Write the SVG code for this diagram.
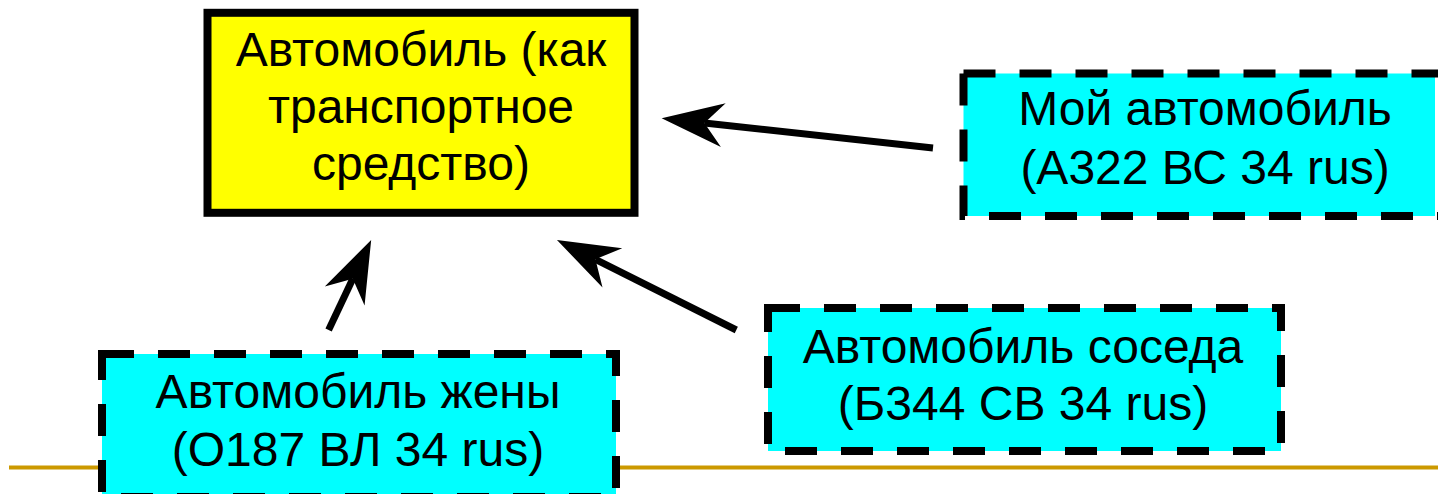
<svg xmlns="http://www.w3.org/2000/svg" width="1438" height="494" viewBox="0 0 1438 494">
  <style>
    .lbl { font-family: "Liberation Sans", Arial, sans-serif; font-size: 48px; fill: #000; text-anchor: middle; }
    .main { fill: #FFFF00; stroke: #000; stroke-width: 8; }
    .inst { fill: #00FFFF; stroke: #000; stroke-width: 8; stroke-dasharray: 32 24; }
    .instfill { fill: #00FFFF; stroke: none; }
    .instline { fill: none; stroke: #000; stroke-width: 8; stroke-dasharray: 32 24; }
    .conn { fill: none; stroke: #000; stroke-width: 7; marker-end: url(#head); }
    .rule { stroke: #CC9900; stroke-width: 4; }
  </style>
  <defs>
    <marker id="head" markerUnits="userSpaceOnUse" viewBox="-22 -25 68 50" refX="0" refY="0" markerWidth="68" markerHeight="50" orient="auto">
      <path d="M43,0 L-19,-22 L0,0 L-19,22 Z" fill="#000"/>
    </marker>
  </defs>
  <rect width="1438" height="494" fill="#fff"/>
  <line class="rule" x1="9" y1="467.5" x2="1438" y2="467.5"/>

  <g id="connectors">
    <line class="conn" x1="933" y1="148" x2="704.4" y2="123"/>
    <line class="conn" x1="736.3" y1="330" x2="595.4" y2="259.3"/>
    <line class="conn" x1="328.6" y1="330" x2="352.8" y2="278.8"/>
  </g>

  <g id="node-vehicle">
    <rect class="main" x="207.5" y="12.8" width="427" height="200"/>
    <text class="lbl" x="421" y="66">Автомобиль (как</text>
    <text class="lbl" x="421" y="123">транспортное</text>
    <text class="lbl" x="421" y="180">средство)</text>
  </g>

  <g id="node-my-car">
    <rect class="instfill" x="963.5" y="73.5" width="471.5" height="142.5"/>
    <path class="instline" d="M963.5,73.5 H1443 M963.5,73.5 V216 H1443"/>
    <text class="lbl" x="1205" y="125">Мой автомобиль</text>
    <text class="lbl" x="1205" y="184">(А322 ВС 34 rus)</text>
  </g>

  <g id="node-neighbor-car">
    <rect class="inst" x="768" y="308" width="513" height="143"/>
    <text class="lbl" x="1023" y="363">Автомобиль соседа</text>
    <text class="lbl" x="1023" y="420">(Б344 СВ 34 rus)</text>
  </g>

  <g id="node-wife-car">
    <rect class="inst" x="102" y="354" width="514" height="143"/>
    <text class="lbl" x="358" y="408">Автомобиль жены</text>
    <text class="lbl" x="358" y="466">(О187 ВЛ 34 rus)</text>
  </g>
</svg>
